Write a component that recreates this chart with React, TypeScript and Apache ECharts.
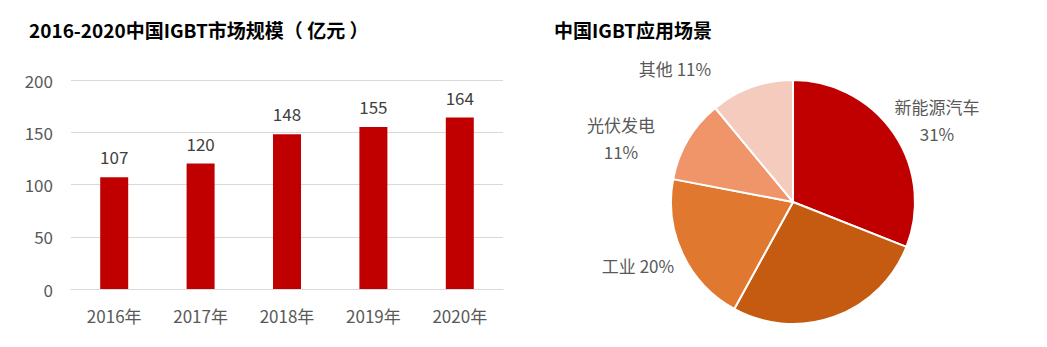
import React, { useEffect, useRef } from "react";
import * as echarts from "echarts";

const years = ["2016年", "2017年", "2018年", "2019年", "2020年"];
const marketSize = [107, 120, 148, 155, 164];
const yTicks = { min: 0, max: 200, interval: 50 };

const sceneNames = ["新能源汽车", "消费电子", "工业", "光伏发电", "其他"];
const sceneShares = [31, 27, 20, 11, 11];
const sceneColors = ["#C00000", "#C55A11", "#E1782F", "#F0946A", "#F5CBBE"];

const FONT = "'Noto Sans CJK SC', 'Noto Sans', sans-serif";

export default function App() {
  const ref = useRef<HTMLDivElement>(null);
  useEffect(() => {
    if (!ref.current) return;
    const chart = echarts.init(ref.current, undefined, { renderer: "svg" });
    const labelPos: Record<number, { x: number; y: number }> = {
      0: { x: 937, y: 120 },
      2: { x: 638, y: 265 },
      3: { x: 621, y: 138 },
      4: { x: 675, y: 68 },
    };
    chart.setOption({
      animation: false,
      textStyle: { fontFamily: FONT },
      title: [
        {
          text: "2016-2020中国IGBT市场规模（ 亿元 ）",
          left: 24,
          top: 15,
          textStyle: { fontSize: 19, fontWeight: "bold", color: "#000", fontFamily: FONT },
        },
        {
          text: "中国IGBT应用场景",
          left: 549,
          top: 15,
          textStyle: { fontSize: 19, fontWeight: "bold", color: "#000", fontFamily: FONT },
        },
      ],
      grid: { left: 71, top: 80, width: 432, height: 209 },
      xAxis: {
        type: "category",
        data: years,
        axisLine: { lineStyle: { color: "#D9D9D9", width: 1 } },
        axisTick: { show: false },
        axisLabel: { color: "#595959", fontSize: 17, margin: 18, fontFamily: FONT },
      },
      yAxis: {
        type: "value",
        min: yTicks.min,
        max: yTicks.max,
        interval: yTicks.interval,
        axisLine: { show: false },
        axisTick: { show: false },
        splitLine: { lineStyle: { color: "#D9D9D9" } },
        axisLabel: { color: "#595959", fontSize: 17, margin: 18, fontFamily: FONT },
      },
      series: [
        {
          type: "bar",
          data: marketSize,
          barWidth: 28,
          itemStyle: { color: "#C00000" },
          label: {
            show: true,
            position: "top",
            distance: 12,
            color: "#404040",
            fontSize: 17,
            fontFamily: FONT,
          },
        },
        {
          type: "pie",
          center: [793, 202],
          radius: 122,
          startAngle: 90,
          clockwise: true,
          data: sceneNames.map((n, i) => ({
            name: n,
            value: sceneShares[i],
            itemStyle: { color: sceneColors[i] },
            label:
              i === 1
                ? { show: false }
                : {
                    show: true,
                    formatter: i === 0 || i === 3 ? "{b}\n{d}%" : "{b} {d}%",
                  },
          })),
          itemStyle: { borderColor: "#fff", borderWidth: 2 },
          label: {
            position: "outside",
            color: "#595959",
            fontSize: 17,
            lineHeight: 27,
            align: "center",
            fontFamily: FONT,
          },
          labelLine: { show: false },
          labelLayout: (params: any) => {
            const p = labelPos[params.dataIndex];
            if (!p) return {};
            return { x: p.x, y: p.y, align: "center", verticalAlign: "middle" };
          },
        },
      ],
    });
    return () => chart.dispose();
  }, []);
  return (
    <div
      ref={ref}
      style={{ position: "fixed", left: 0, top: 0, width: 1047, height: 347, background: "#fff" }}
    />
  );
}
